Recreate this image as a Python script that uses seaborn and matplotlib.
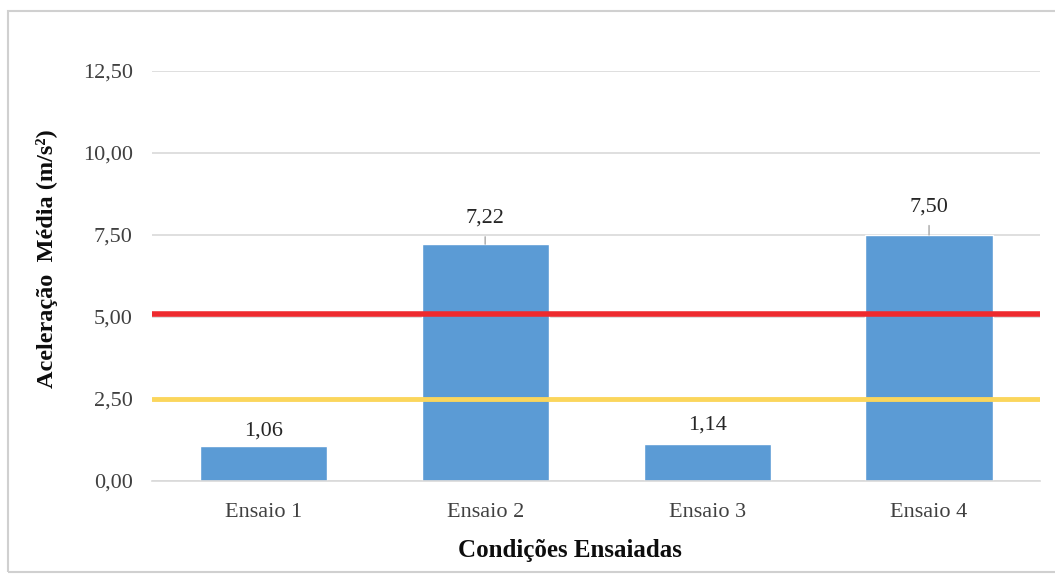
import matplotlib
matplotlib.use("Agg")
import matplotlib.pyplot as plt
from matplotlib.patches import Rectangle
from matplotlib.ticker import FuncFormatter
import seaborn as sns
import pandas as pd

# Test conditions and their mean acceleration (m/s²)
ensaios = ["Ensaio 1", "Ensaio 2", "Ensaio 3", "Ensaio 4"]
aceleracao = [1.06, 7.22, 1.14, 7.50]

# Reference limits drawn as horizontal lines
limite_superior = 5.1
limite_inferior = 2.5

y_ticks = [0.0, 2.5, 5.0, 7.5, 10.0, 12.5]

sns.set_theme(style="white")
plt.rcParams["font.family"] = ["Liberation Serif", "DejaVu Serif"]

df = pd.DataFrame({"ensaio": ensaios, "aceleracao": aceleracao})

fig = plt.figure(figsize=(10.55, 5.77), dpi=100)
ax = fig.add_axes([0.1443, 0.1664, 0.8415, 0.7106])

sns.barplot(data=df, x="ensaio", y="aceleracao", color="#5B9BD5",
            width=0.573, saturation=1, ax=ax, zorder=2)

ax.set_ylim(0, 12.5)
ax.set_xlim(-0.5, len(ensaios) - 0.5)
ax.set_yticks(y_ticks)
ax.yaxis.set_major_formatter(FuncFormatter(lambda v, _: f"{v:.2f}".replace(".", ",")))
ax.yaxis.grid(True, color="#D9D9D9", lw=1.2, zorder=0)
ax.set_axisbelow(True)
for side in ["top", "right", "left"]:
    ax.spines[side].set_visible(False)
ax.spines["bottom"].set_color("#D9D9D9")
ax.spines["bottom"].set_linewidth(1.2)
ax.tick_params(axis="both", length=0, labelsize=16, colors="#404040")
ax.tick_params(axis="x", pad=16)
ax.tick_params(axis="y", pad=14)

ax.axhline(limite_superior, color="#EE2A2E", lw=4, zorder=3)
ax.axhline(limite_inferior, color="#FBD65C", lw=3.5, zorder=3)

# Value labels; tall bars get a short leader line
offsets = [11, 18.5, 13.5, 20]
for i, (v, off) in enumerate(zip(aceleracao, offsets)):
    label = f"{v:.2f}".replace(".", ",")
    if v > 5:
        ax.annotate(label, xy=(i, v), xytext=(0, off), textcoords="offset points",
                    ha="center", va="center", fontsize=16, color="#262626",
                    arrowprops=dict(arrowstyle="-", color="#A6A6A6", lw=1,
                                    shrinkA=4, shrinkB=0), zorder=4)
    else:
        ax.annotate(label, xy=(i, v), xytext=(0, off), textcoords="offset points",
                    ha="center", va="center", fontsize=16, color="#262626", zorder=4)

ax.set_xlabel("Condições Ensaiadas", fontsize=18, fontweight="bold", color="#0D0D0D")
ax.xaxis.set_label_coords(0.471, -0.142)
ax.set_ylabel("Aceleração  Média (m/s²)", fontsize=17.5, fontweight="bold", color="#0D0D0D")
ax.yaxis.set_label_coords(-0.106, 0.543)

# Outer chart frame
fig.patches.append(Rectangle((8 / 1055, 1 - 572 / 577), 1.1, (572 - 11) / 577,
                             transform=fig.transFigure, fill=False,
                             edgecolor="#D0D0D0", lw=1.5))

fig.savefig("out.png", dpi=100)
